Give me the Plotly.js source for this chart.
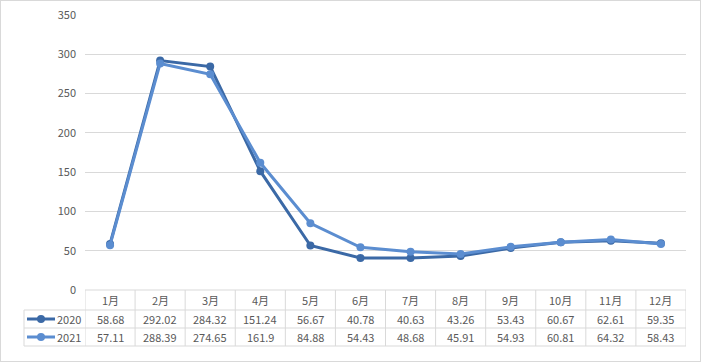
<!DOCTYPE html>
<html><head><meta charset="utf-8">
<script src="https://cdn.plot.ly/plotly-3.0.1.min.js"></script>
<style>
html,body{margin:0;padding:0;background:#fff;}
#wrap{position:relative;width:701px;height:362px;}
#chart{width:701px;height:362px;}
#frame{position:absolute;left:0;top:0;width:699px;height:360px;border:1px solid #d9d9d9;pointer-events:none;}
</style></head>
<body>
<div id="wrap"><div id="chart"></div><div id="frame"></div></div>
<script>
const months = ['1月','2月','3月','4月','5月','6月','7月','8月','9月','10月','11月','12月'];
const seriesNames = ['2020','2021'];
const values2020 = [58.68,292.02,284.32,151.24,56.67,40.78,40.63,43.26,53.43,60.67,62.61,59.35];
const values2021 = [57.11,288.39,274.65,161.9,84.88,54.43,48.68,45.91,54.93,60.81,64.32,58.43];
const yTicks = [0,50,100,150,200,250,300,350];

const colors = ['#3b69a6','#5b8dd0'];
const font = 'Noto Sans CJK SC, Microsoft YaHei, sans-serif';
const textColor = '#595959';
const gridColor = '#d9d9d9';

const L = 85, R = 686, T = 15, B = 290, W = 701, H = 362;
const plotH = B - T, plotW = R - L;
const py = p => (B - p) / plotH;     // pixel y -> paper y
const px = p => (p - L) / plotW;     // pixel x -> paper x

const rowTops = [290, 310, 328, 346];
const allSeries = [values2020, values2021];

const traces = allSeries.map((v, i) => ({
  x: months, y: v, type: 'scatter', mode: 'lines+markers', name: seriesNames[i],
  line: {color: colors[i], width: 3}, marker: {color: colors[i], size: 8},
  cliponaxis: false, showlegend: false
}));

const shapes = [];
const annotations = [];
// horizontal lines of table
shapes.push({type:'line', xref:'paper', yref:'paper', x0:0, x1:1, y0:py(rowTops[0]), y1:py(rowTops[0]), line:{color:gridColor, width:1}});
for (let r = 1; r < rowTops.length; r++) {
  shapes.push({type:'line', xref:'paper', yref:'paper', x0:px(24), x1:1, y0:py(rowTops[r]), y1:py(rowTops[r]), line:{color:gridColor, width:1}});
}
// vertical lines
shapes.push({type:'line', xref:'paper', yref:'paper', x0:px(24), x1:px(24), y0:py(rowTops[1]), y1:py(rowTops[3]), line:{color:gridColor, width:1}});
for (let k = 0; k <= months.length; k++) {
  shapes.push({type:'line', xref:'x', yref:'paper', x0:k-0.5, x1:k-0.5, y0:py(rowTops[0]), y1:py(rowTops[3]), line:{color:gridColor, width:1}});
}
// month headers
months.forEach((m, k) => {
  annotations.push({x:m, xref:'x', yref:'paper', y:py((rowTops[0]+rowTops[1])/2), text:m, showarrow:false,
    xanchor:'center', yanchor:'middle', font:{family:font, size:11, color:textColor}});
});
// values rows
allSeries.forEach((v, i) => {
  const yc = py((rowTops[i+1]+rowTops[i+2])/2);
  v.forEach((val, k) => {
    annotations.push({x:months[k], xref:'x', yref:'paper', y:yc, text:String(val), showarrow:false,
      xanchor:'center', yanchor:'middle', font:{family:font, size:11, color:textColor}});
  });
  // legend key
  shapes.push({type:'line', xref:'paper', yref:'paper', x0:px(27), x1:px(55), y0:yc, y1:yc, line:{color:colors[i], width:3}});
  const rpx = 4;
  shapes.push({type:'circle', xref:'paper', yref:'paper', x0:px(41-rpx), x1:px(41+rpx), y0:yc-rpx/plotH, y1:yc+rpx/plotH,
    fillcolor:colors[i], line:{color:colors[i], width:0}});
  annotations.push({x:px(83), xref:'paper', yref:'paper', y:yc, text:seriesNames[i], showarrow:false,
    xanchor:'right', yanchor:'middle', font:{family:font, size:11, color:textColor}});
});

const layout = {
  width: W, height: H,
  margin: {l: L, r: W - R, t: T, b: H - B, pad: 0},
  paper_bgcolor: '#fff', plot_bgcolor: '#fff',
  font: {family: font, size: 11, color: textColor},
  showlegend: false,
  xaxis: {type:'category', range:[-0.5, 11.5], showticklabels:false, showgrid:false, zeroline:false, showline:false, ticks:''},
  yaxis: {range:[0,350], tickvals:yTicks, ticktext:yTicks.map(String), showgrid:true, gridcolor:gridColor, gridwidth:1,
    zeroline:false, showline:false, ticks:'', ticklabelstandoff:8, tickfont:{family:font, size:11, color:textColor}},
  shapes: shapes, annotations: annotations
};
Plotly.newPlot('chart', traces, layout, {displayModeBar:false, staticPlot:true});
</script>
</body></html>
